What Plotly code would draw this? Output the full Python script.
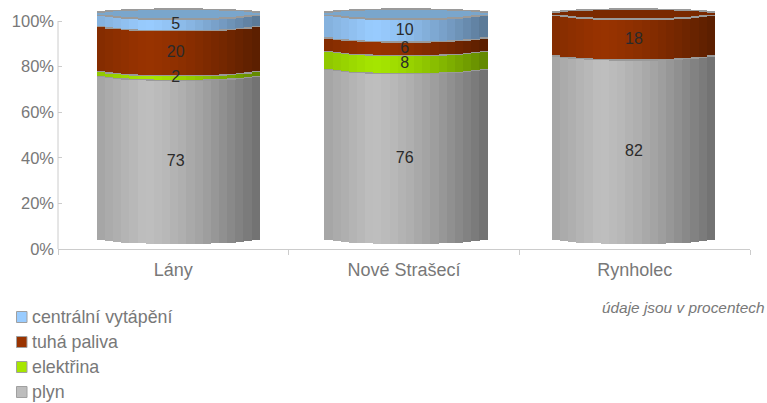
import math
import plotly.graph_objects as go

categories = ["Lány", "Nové Strašecí", "Rynholec"]
series_names = ["plyn", "elektřina", "tuhá paliva", "centrální vytápění"]
plyn = [73, 76, 82]
elektrina = [2, 8, 0]
tuha_paliva = [20, 6, 18]
centralni = [5, 10, 0]
y_ticks = [0, 20, 40, 60, 80, 100]
y_tick_labels = ["0%", "20%", "40%", "60%", "80%", "100%"]
note = "údaje jsou v procentech"

W, H = 767, 403
PLOT_L, PLOT_R, PLOT_T, PLOT_B = 58, 750, 8, 249   # page pixels
L, R, T, B = PLOT_L, W - PLOT_R, PLOT_T, H - PLOT_B
PW, PH = PLOT_R - PLOT_L, PLOT_B - PLOT_T
UNIT = 2.28  # pixels per percent
Y_TOP = PH / UNIT

series_values = [plyn, elektrina, tuha_paliva, centralni]
peak = [(191, 191, 191), (166, 230, 0), (153, 51, 0), (153, 204, 255)]
swatch = ["#bdbdbd", "#a6e600", "#993300", "#99ccff"]
cap_col = {2: (122, 41, 0), 3: (122, 166, 204)}

CENTERS = [0.522, 1.509, 2.495]
LABEL_X = [0.51, 1.503, 2.497]
HALF = 81.5 / (PW / 3)
N = 20
SW = 2 * HALF / N
OFFSET, SCALE, FRONT, BACK, RIM = 4.8, 0.987, 2.6, 1.7, 0.7
FONT = "Liberation Sans, Arial, sans-serif"
GREY = "#787878"
LINE = "#cccccc"


def shade(rgb, u):
    if u < -0.4:
        f = 0.86 + 0.14 * (u + 1) / 0.6
    else:
        f = 1.0 - 0.42 * ((u + 0.4) / 1.4) ** 1.4
    return "rgb(%d,%d,%d)" % tuple(round(c * f) for c in rgb)


def strips():
    for c in CENTERS:
        for k in range(N):
            u = -1 + (k + 0.5) * 2 / N
            yield c + u * HALF, u, FRONT * math.sqrt(1 - u * u), BACK * math.sqrt(1 - u * u)


fig = go.Figure()


def add(xs, ys, bases, cols):
    fig.add_trace(go.Bar(x=xs, y=ys, base=bases, width=SW * 1.04, orientation="v",
                         marker=dict(color=cols, line=dict(width=0)),
                         showlegend=False, hoverinfo="skip"))


cum = [0, 0, 0]
for si, vals in enumerate(series_values):
    xs, ys, bases, cols = [], [], [], []
    for i, (x, u, f, b) in enumerate(strips()):
        ci = i // N
        v = vals[ci]
        if v == 0:
            continue
        bottom = OFFSET + SCALE * cum[ci]
        xs.append(x); ys.append(SCALE * v); bases.append(bottom - f)
        cols.append(shade(peak[si], u))
    add(xs, ys, bases, cols)
    xs, ys, bases, cols = [], [], [], []
    for i, (x, u, f, b) in enumerate(strips()):
        ci = i // N
        v = vals[ci]
        if v == 0:
            continue
        top = OFFSET + SCALE * (cum[ci] + v)
        xs.append(x); ys.append(RIM); bases.append(top - f - RIM / 2)
        cols.append("#9a9a9a")
    add(xs, ys, bases, cols)
    cum = [a + b for a, b in zip(cum, vals)]

# top cap
xs, ys, bases, cols = [], [], [], []
xs2, ys2, bases2, cols2 = [], [], [], []
for i, (x, u, f, b) in enumerate(strips()):
    ci = i // N
    top_series = max(s for s in range(4) if series_values[s][ci] > 0)
    top = OFFSET + SCALE * cum[ci]
    xs.append(x); ys.append(f + b + RIM); bases.append(top - f - RIM / 2); cols.append("#9a9a9a")
    xs2.append(x); ys2.append(max(f + b - RIM, 0.01)); bases2.append(top - f + RIM / 2)
    cols2.append("rgb(%d,%d,%d)" % cap_col[top_series])
add(xs, ys, bases, cols)
add(xs2, ys2, bases2, cols2)

# value labels
lx, ly, lt = [], [], []
cum = [0, 0, 0]
for vals in series_values:
    for i, v in enumerate(vals):
        if v:
            lx.append(LABEL_X[i])
            ly.append(OFFSET + SCALE * (cum[i] + v / 2) - FRONT * 1.05)
            lt.append(str(v))
    cum = [a + b for a, b in zip(cum, vals)]
fig.add_trace(go.Scatter(x=lx, y=ly, text=lt, mode="text", showlegend=False, hoverinfo="skip",
                         textfont=dict(family=FONT, size=16, color="#2a2a2a")))

shapes, annos = [], []
def paper_x(x): return (x - PLOT_L) / PW
def paper_y(y): return (PLOT_B - y) / PH

# y axis line stops at 100%
shapes.append(dict(type="line", xref="paper", yref="y", x0=0, x1=0, y0=0, y1=100,
                   line=dict(color=LINE, width=1)))

rows = [317, 342, 367, 392]
for name, col, yc in zip(series_names[::-1], swatch[::-1], rows):
    shapes.append(dict(type="rect", xref="paper", yref="paper", layer="above",
                       x0=paper_x(16.5), x1=paper_x(27),
                       y0=paper_y(yc + 5.5), y1=paper_y(yc - 5.5),
                       fillcolor=col, line=dict(color="#a0a0a0", width=1)))
    annos.append(dict(xref="paper", yref="paper", x=paper_x(30), y=paper_y(yc),
                      text=name, showarrow=False, xanchor="left", yanchor="middle",
                      font=dict(family=FONT, size=17.8, color=GREY)))
annos.append(dict(xref="paper", yref="paper", x=paper_x(767), y=paper_y(307),
                  text="<i>" + note + "</i>", showarrow=False, xanchor="right", yanchor="middle",
                  font=dict(family=FONT, size=15.4, color=GREY)))

fig.update_layout(
    width=W, height=H, margin=dict(l=L, r=R, t=T, b=B, pad=0),
    paper_bgcolor="white", plot_bgcolor="white",
    barmode="overlay", bargap=0, showlegend=False,
    shapes=shapes, annotations=annos,
    font=dict(family=FONT),
    xaxis=dict(range=[0, 3], tickmode="array", tickvals=[0.5, 1.5, 2.5], ticktext=categories,
               ticks="", showgrid=False, zeroline=False, showline=True, linecolor=LINE,
               linewidth=1, tickfont=dict(size=18, color=GREY), ticklabelstandoff=4,
               minor=dict(tickmode="array", tickvals=[0, 1, 2, 3], ticks="outside", ticklen=5,
                          tickcolor=LINE, showgrid=False)),
    yaxis=dict(range=[0, Y_TOP], tickmode="array", tickvals=y_ticks, ticktext=y_tick_labels,
               ticks="inside", ticklen=4, tickcolor=LINE, showgrid=False, zeroline=False,
               showline=False, tickfont=dict(size=16.5, color=GREY), ticklabelstandoff=3),
)
fig.write_html("out.html", config=dict(displayModeBar=False),
               post_script="document.body.style.margin='0';document.documentElement.style.overflow='hidden';")
